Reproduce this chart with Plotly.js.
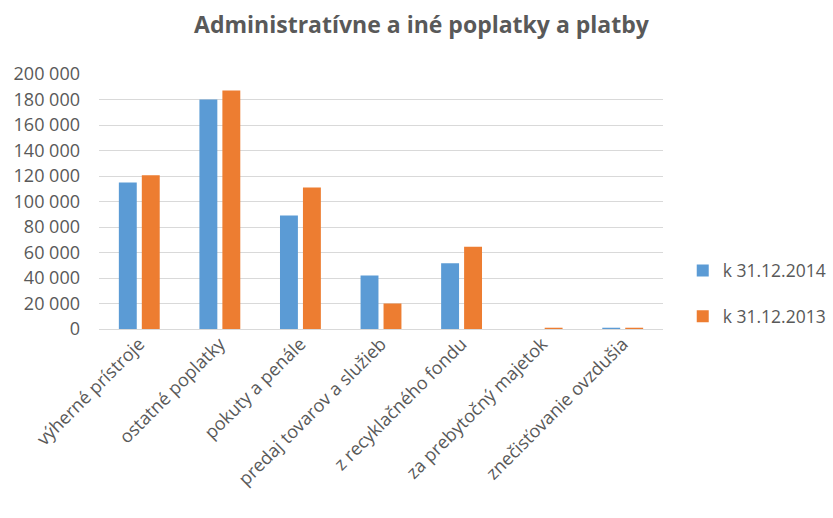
<!DOCTYPE html>
<html><head><meta charset="utf-8">
<script src="https://cdn.plot.ly/plotly-3.0.1.min.js"></script>
<style>body{margin:0;background:#fff}#c{width:833px;height:518px}</style>
</head><body><div id="c"></div>
<script>
const categories = ["výherné prístroje","ostatné poplatky","pokuty a penále","predaj tovarov a služieb","z recyklačného fondu","za prebytočný majetok","znečisťovanie ovzdušia"];
const series2014 = [115000, 180000, 89000, 42000, 51500, 0, 1000];
const series2013 = [120500, 187000, 111000, 20000, 64500, 1000, 1000];
const seriesNames = ["k 31.12.2014","k 31.12.2013"];
const yTicks = [0,20000,40000,60000,80000,100000,120000,140000,160000,180000,200000];

const font = "Open Sans, sans-serif";
const grey = "#595959";
const data = [
  {type:"bar", x:categories, y:series2014, name:seriesNames[0], legendgroup:"a", marker:{color:"#5B9BD5"}},
  {type:"bar", x:categories, y:series2013, name:seriesNames[1], legendgroup:"b", marker:{color:"#ED7D31"}}
];
const layout = {
  width:833, height:518,
  margin:{l:99, r:170, t:74, b:189, pad:0, autoexpand:false},
  paper_bgcolor:"#fff", plot_bgcolor:"#fff",
  separators:", ",
  barmode:"group", bargap:0.43, bargroupgap:0.22,
  title:{text:"<b>Administratívne a iné poplatky a platby</b>", x:0.506, xanchor:"center", y:0.952, yanchor:"middle", font:{family:font, size:23, color:grey}},
  xaxis:{tickangle:-45, tickfont:{family:font, size:18, color:grey}, showgrid:false, showline:false, ticks:"", automargin:false},
  yaxis:{range:[0,200000], tickvals:yTicks, tickformat:",d", tickfont:{family:font, size:18, color:grey}, gridcolor:"#d9d9d9", gridwidth:1, zeroline:true, zerolinecolor:"#d9d9d9", showline:false, ticks:"", ticklabelstandoff:18, automargin:false},
  legend:{x:1.035, y:0.139, xanchor:"left", yanchor:"middle", traceorder:"grouped", font:{family:font, size:17.5, color:grey}, tracegroupgap:20, itemwidth:30},
  showlegend:true
};
Plotly.newPlot("c", data, layout, {displayModeBar:false, staticPlot:true});
</script></body></html>
